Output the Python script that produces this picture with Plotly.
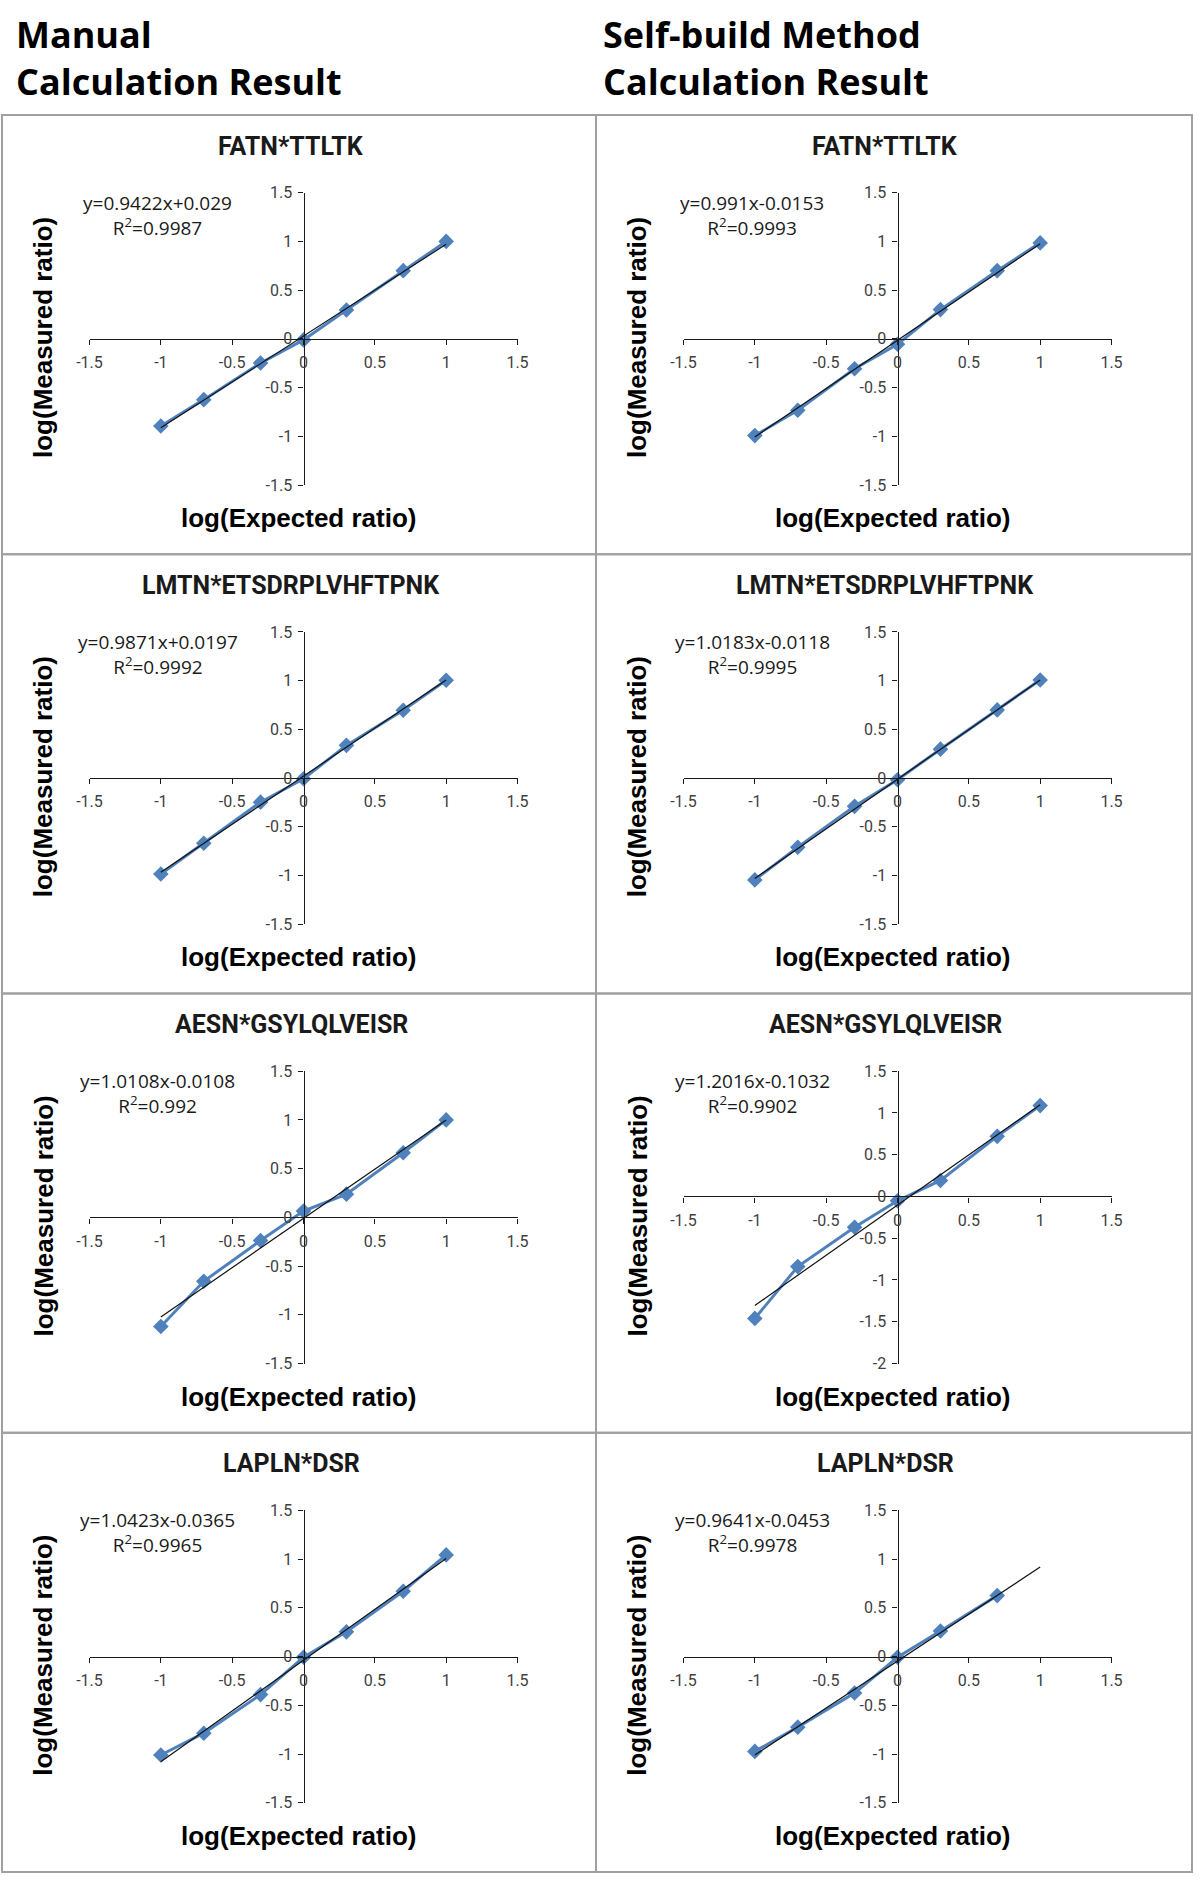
import plotly.graph_objects as go

# ---------------- data ----------------
expected_x = [-1, -0.699, -0.301, 0, 0.301, 0.699, 1]
peptides = ["FATN*TTLTK", "LMTN*ETSDRPLVHFTPNK", "AESN*GSYLQLVEISR", "LAPLN*DSR"]
method_titles = [["Manual", "Calculation Result"], ["Self-build Method", "Calculation Result"]]

manual_measured = [
    [-0.894, -0.624, -0.248, -0.011, 0.296, 0.700, 1.000],
    [-0.985, -0.669, -0.247, -0.007, 0.336, 0.696, 1.005],
    [-1.120, -0.656, -0.238, 0.065, 0.238, 0.663, 1.000],
    [-1.010, -0.786, -0.390, -0.007, 0.254, 0.671, 1.044],
]
selfbuild_measured = [
    [-0.993, -0.733, -0.307, -0.056, 0.300, 0.700, 0.985],
    [-1.045, -0.710, -0.290, -0.017, 0.297, 0.700, 1.007],
    [-1.460, -0.840, -0.368, -0.052, 0.192, 0.720, 1.088],
    [-0.973, -0.724, -0.374, -0.007, 0.262, 0.626, None],
]
manual_slope = [0.9422, 0.9871, 1.0108, 1.0423]
manual_intercept = [0.029, 0.0197, -0.0108, -0.0365]
manual_r2 = ["0.9987", "0.9992", "0.992", "0.9965"]
self_slope = [0.991, 1.0183, 1.2016, 0.9641]
self_intercept = [-0.0153, -0.0118, -0.1032, -0.0453]
self_r2 = ["0.9993", "0.9995", "0.9902", "0.9978"]

x_ticks = [-1.5, -1, -0.5, 0, 0.5, 1, 1.5]
x_tick_text = ["-1.5", "-1", "-0.5", "0", "0.5", "1", "1.5"]
y_ticks_std = [-1.5, -1, -0.5, 0, 0.5, 1, 1.5]
y_ticks_std_text = ["-1.5", "-1", "-0.5", "0", "0.5", "1", "1.5"]
y_ticks_ext = [-2, -1.5, -1, -0.5, 0, 0.5, 1, 1.5]
y_ticks_ext_text = ["-2", "-1.5", "-1", "-0.5", "0", "0.5", "1", "1.5"]
manual_y_min = [-1.5, -1.5, -1.5, -1.5]
self_y_min = [-1.5, -1.5, -2, -1.5]

# ---------------- layout helpers ----------------
W, H = 1200, 1878
def fx(p):
    return p / W
def fy(p):
    return 1 - p / H

ROW_TOP0 = 115
ROW_H = 439.25
COL_LEFT = [2, 596]
COL_RIGHT = [596, 1192]

BLUE = "#4F81BD"
TICK_FONT = dict(family="Roboto", size=16, color="#404040")

fig = go.Figure()
shapes = []
annotations = []
layout_axes = {}

panels = []
for r in range(4):
    panels.append((r, 0, manual_measured[r], manual_slope[r], manual_intercept[r], manual_r2[r], manual_y_min[r]))
    panels.append((r, 1, selfbuild_measured[r], self_slope[r], self_intercept[r], self_r2[r], self_y_min[r]))

for idx, (r, c, meas, slope, icpt, r2, ymin) in enumerate(panels, start=1):
    top = ROW_TOP0 + r * ROW_H
    left = COL_LEFT[c]
    shapes.append(dict(type="rect", xref="paper", yref="paper",
                       x0=fx(COL_LEFT[c]), x1=fx(COL_RIGHT[c]), y0=fy(top + ROW_H), y1=fy(top),
                       line=dict(color="#A0A0A0", width=2), fillcolor="rgba(0,0,0,0)", layer="below"))
    pl, pr = left + 87.5, left + 515.5
    pt, pb = top + 77.7, top + 370
    ymax = 1.5
    y0_px = pt + (ymax - 0) / (ymax - ymin) * (pb - pt)
    x0_px = (pl + pr) / 2

    xa = "x" if idx == 1 else f"x{idx}"
    ya = "y" if idx == 1 else f"y{idx}"
    if ymin < -1.5:
        yt, ytt = y_ticks_ext, y_ticks_ext_text
    else:
        yt, ytt = y_ticks_std, y_ticks_std_text

    layout_axes["xaxis" if idx == 1 else f"xaxis{idx}"] = dict(
        domain=[fx(pl), fx(pr)], range=[-1.5, 1.5], anchor="free", position=fy(y0_px),
        side="bottom", showline=True, linecolor="#1a1a1a", linewidth=1.3,
        ticks="outside", ticklen=5, tickwidth=1.3, tickcolor="#1a1a1a",
        tickvals=x_ticks, ticktext=x_tick_text, tickfont=TICK_FONT, ticklabelstandoff=4,
        showgrid=False, zeroline=False, fixedrange=True, automargin=False)
    layout_axes["yaxis" if idx == 1 else f"yaxis{idx}"] = dict(
        domain=[fy(pb), fy(pt)], range=[ymin, ymax], anchor="free", position=fx(x0_px),
        side="left", showline=True, linecolor="#1a1a1a", linewidth=1.3,
        ticks="outside", ticklen=5, tickwidth=1.3, tickcolor="#1a1a1a",
        tickvals=yt, ticktext=ytt, tickfont=TICK_FONT, ticklabelstandoff=3,
        showgrid=False, zeroline=False, fixedrange=True, automargin=False)

    fig.add_trace(go.Scatter(x=expected_x, y=meas, xaxis=xa, yaxis=ya, mode="lines+markers",
                             line=dict(color=BLUE, width=3),
                             marker=dict(symbol="diamond", size=12, color=BLUE),
                             showlegend=False, hoverinfo="skip"))
    tx = [expected_x[0], expected_x[-1]]
    ty = [slope * v + icpt for v in tx]
    fig.add_trace(go.Scatter(x=tx, y=ty, xaxis=xa, yaxis=ya, mode="lines",
                             line=dict(color="#111111", width=1.2),
                             showlegend=False, hoverinfo="skip"))

    annotations.append(dict(text=f"<b>{peptides[r]}</b>", xref="paper", yref="paper",
                            x=fx(left + 289), y=fy(top + 31), xanchor="center", yanchor="middle",
                            showarrow=False, font=dict(family="Roboto", size=25, color="#1a1a1a")))
    sign = "+" if icpt >= 0 else "-"
    eq = f"y={slope:g}x{sign}{abs(icpt):g}<br>R<sup>2</sup>={r2}"
    annotations.append(dict(text=eq, xref="paper", yref="paper",
                            x=fx(left + 156), y=fy(top + 100), xanchor="center", yanchor="middle",
                            align="center", showarrow=False,
                            font=dict(family="Open Sans", size=19, color="#1a1a1a")))
    annotations.append(dict(text="<b>log(Expected ratio)</b>", xref="paper", yref="paper",
                            x=fx(left + 296), y=fy(top + 403), xanchor="center", yanchor="middle",
                            showarrow=False, font=dict(family="Liberation Sans", size=26, color="#000000")))
    annotations.append(dict(text="<b>log(Measured ratio)</b>", xref="paper", yref="paper",
                            x=fx(left + 41), y=fy(top + 223), xanchor="center", yanchor="middle",
                            textangle=-90, showarrow=False,
                            font=dict(family="Liberation Sans", size=26, color="#000000")))

for c in range(2):
    hx = 14 if c == 0 else 601
    annotations.append(dict(text="<br>".join(f"<b>{t}</b>" for t in method_titles[c]),
                            xref="paper", yref="paper",
                            x=fx(hx), y=fy(58), xanchor="left", yanchor="middle", align="left",
                            showarrow=False,
                            font=dict(family="Open Sans", size=36, color="#000000")))

fig.update_layout(width=W, height=H, autosize=False,
                  margin=dict(l=0, r=0, t=0, b=0, pad=0, autoexpand=False),
                  paper_bgcolor="white", plot_bgcolor="rgba(0,0,0,0)",
                  showlegend=False, shapes=shapes, annotations=annotations,
                  **layout_axes)

fig.write_html("out.html", config={"displayModeBar": False},
               post_script="document.body.style.margin='0';document.body.style.padding='0';")
